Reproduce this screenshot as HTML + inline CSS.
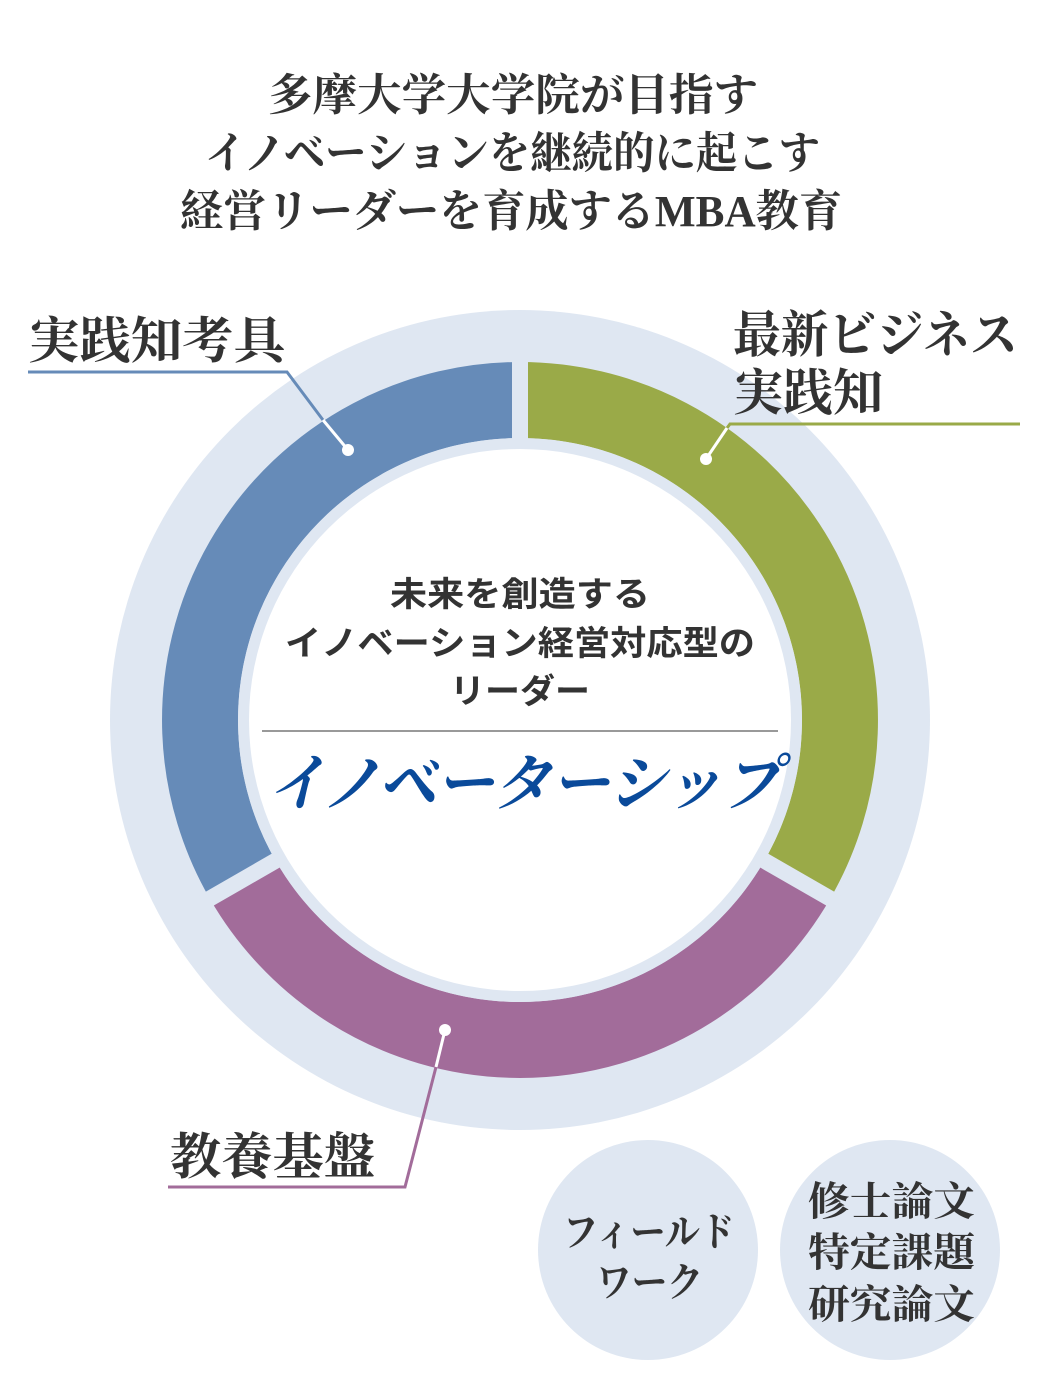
<!DOCTYPE html>
<html><head><meta charset="utf-8"><style>
html,body{margin:0;padding:0;background:#fff;}
svg{display:block}
.serif{font-family:"Liberation Serif","Noto Serif CJK SC","Noto Sans CJK JP",serif;}
.sans{font-family:"Liberation Sans","Noto Sans CJK JP",sans-serif;}
</style></head><body>
<svg width="1040" height="1400" viewBox="0 0 1040 1400" xmlns="http://www.w3.org/2000/svg">
<g class="serif" fill="#333" font-size="44" font-weight="bold">
<text x="268" y="110" textLength="490" lengthAdjust="spacingAndGlyphs">多摩大学大学院が目指す</text>
<text x="205" y="168" textLength="615" lengthAdjust="spacingAndGlyphs">イノベーションを継続的に起こす</text>
<text x="180" y="226" textLength="662" lengthAdjust="spacingAndGlyphs">経営リーダーを育成するMBA教育</text>
</g>
<circle cx="520" cy="720" r="410" fill="#dfe7f2"/>
<g fill="none" stroke-width="76">
<path d="M520 400 A320 320 0 0 0 242.9 880" stroke="#668bb8"/>
<path d="M520 400 A320 320 0 0 1 797.1 880" stroke="#9aaa48"/>
<path d="M797.1 880 A320 320 0 0 1 242.9 880" stroke="#a26c9a"/>
</g>
<g stroke="#dfe7f2" stroke-width="16">
<line x1="520" y1="720" x2="520" y2="340"/>
<line x1="520" y1="720" x2="190" y2="910"/>
<line x1="520" y1="720" x2="850" y2="910"/>
</g>
<circle cx="520" cy="720" r="282" fill="#dfe7f2"/>
<circle cx="520" cy="720" r="271" fill="#fff"/>
<g class="sans" fill="#333" font-size="34" font-weight="bold">
<text x="390" y="606" textLength="260" lengthAdjust="spacingAndGlyphs">未来を創造する</text>
<text x="285" y="655" textLength="470" lengthAdjust="spacingAndGlyphs">イノベーション経営対応型の</text>
<text x="450" y="703" textLength="140" lengthAdjust="spacingAndGlyphs">リーダー</text>
</g>
<line x1="262" y1="731" x2="778" y2="731" stroke="#999" stroke-width="2"/>
<text class="serif" x="268" y="805" font-size="62" font-weight="bold" fill="#0a4a9a" font-style="italic" textLength="512" lengthAdjust="spacingAndGlyphs">イノベーターシップ</text>
<g fill="none" stroke-width="3">
<polyline points="28,372 287,372 323,420" stroke="#668bb8"/>
<polyline points="1020,424 730,424 727,428" stroke="#9aaa48"/>
<polyline points="436,1067 405,1187 168,1187" stroke="#a26c9a"/>
</g>
<g stroke="#fff" stroke-width="3">
<line x1="323" y1="420" x2="348" y2="450"/>
<line x1="727" y1="428" x2="706" y2="459"/>
<line x1="436" y1="1067" x2="445" y2="1030"/>
</g>
<g fill="#fff"><circle cx="348" cy="450" r="6"/><circle cx="706" cy="459" r="6"/><circle cx="445" cy="1030" r="6"/></g>
<g class="serif" fill="#333" font-size="50" font-weight="bold">
<text x="28" y="358" textLength="257" lengthAdjust="spacingAndGlyphs">実践知考具</text>
<text x="733" y="352" textLength="285" lengthAdjust="spacingAndGlyphs">最新ビジネス</text>
<text x="733" y="410" textLength="150" lengthAdjust="spacingAndGlyphs">実践知</text>
<text x="170" y="1174" textLength="205" lengthAdjust="spacingAndGlyphs">教養基盤</text>
</g>
<circle cx="648" cy="1250" r="110" fill="#dfe7f2"/>
<circle cx="890" cy="1250" r="110" fill="#dfe7f2"/>
<g class="serif" fill="#333" font-size="40" font-weight="bold">
<text x="563" y="1246" textLength="172" lengthAdjust="spacingAndGlyphs">フィールド</text>
<text x="596" y="1296" textLength="107" lengthAdjust="spacingAndGlyphs">ワーク</text>
<text x="808" y="1215" textLength="167" lengthAdjust="spacingAndGlyphs">修士論文</text>
<text x="808" y="1266" textLength="167" lengthAdjust="spacingAndGlyphs">特定課題</text>
<text x="808" y="1318" textLength="167" lengthAdjust="spacingAndGlyphs">研究論文</text>
</g>
</svg>
</body></html>
